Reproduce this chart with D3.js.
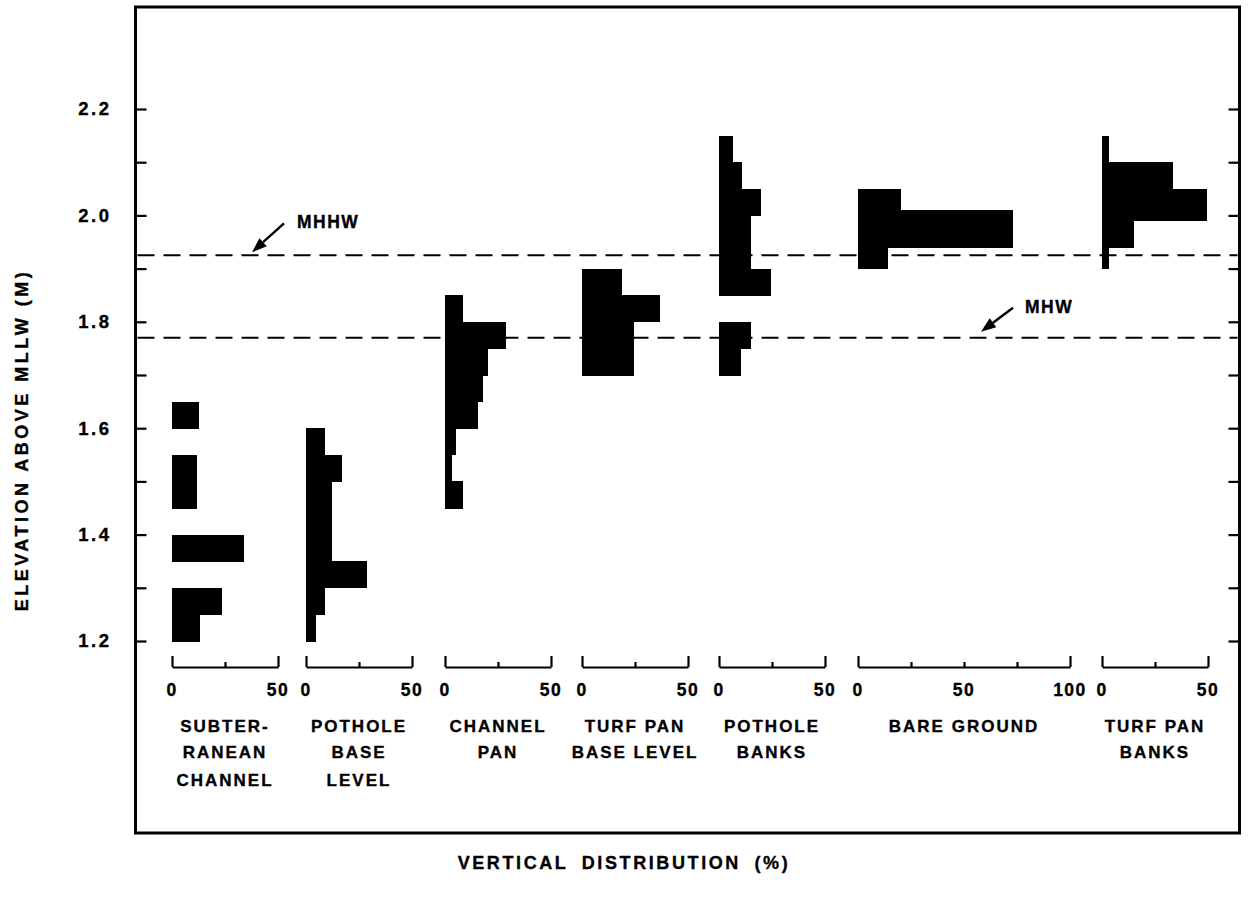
<!DOCTYPE html>
<html>
<head>
<meta charset="utf-8">
<script src="https://cdn.jsdelivr.net/npm/d3@7"></script>
<style>
  body { margin: 0; background: #fff; }
  text { font-family: "Liberation Sans", Arial, Helvetica, sans-serif; font-weight: bold; fill: #000; stroke: #000; stroke-width: 0.35px; }
</style>
</head>
<body>
<svg id="chart" width="1255" height="902"></svg>
<script>
// Elevation bins per habitat: [lower elevation (m), upper elevation (m), percent of occurrences]
const subterraneanChannel = [
  [1.20, 1.25, 13], [1.25, 1.30, 23.5], [1.35, 1.40, 34],
  [1.45, 1.50, 12], [1.50, 1.55, 12], [1.60, 1.65, 12.5]
];
const potholeBaseLevel = [
  [1.20, 1.25, 4.9], [1.25, 1.30, 8.8], [1.30, 1.35, 29], [1.35, 1.40, 12.3],
  [1.40, 1.45, 12.3], [1.45, 1.50, 12.3], [1.50, 1.55, 17], [1.55, 1.60, 8.8]
];
const channelPan = [
  [1.45, 1.50, 8.3], [1.50, 1.55, 3.4], [1.55, 1.60, 5], [1.60, 1.65, 15.6],
  [1.65, 1.70, 17.9], [1.70, 1.75, 20.4], [1.75, 1.80, 28.6], [1.80, 1.85, 8.6]
];
const turfPanBaseLevel = [
  [1.70, 1.80, 24.7], [1.80, 1.85, 36.6], [1.85, 1.90, 18.9]
];
const potholeBanks = [
  [1.70, 1.75, 10.5], [1.75, 1.80, 15], [1.85, 1.90, 24.4], [1.90, 1.95, 15.3],
  [1.95, 2.00, 15.3], [2.00, 2.05, 19.7], [2.05, 2.10, 11], [2.10, 2.15, 6.6]
];
const bareGround = [
  [1.90, 1.94, 14], [1.94, 2.01, 73], [2.01, 2.05, 20.5]
];
const turfPanBanks = [
  [1.90, 1.94, 3.5], [1.94, 1.99, 15], [1.99, 2.05, 49.6], [2.05, 2.10, 33.5], [2.10, 2.15, 3.5]
];

const habitatSeries = [subterraneanChannel, potholeBaseLevel, channelPan, turfPanBaseLevel,
                       potholeBanks, bareGround, turfPanBanks];
const habitatLabels = [
  ["SUBTER-", "RANEAN", "CHANNEL"],
  ["POTHOLE", "BASE", "LEVEL"],
  ["CHANNEL", "PAN"],
  ["TURF PAN", "BASE LEVEL"],
  ["POTHOLE", "BANKS"],
  ["BARE GROUND"],
  ["TURF PAN", "BANKS"]
];
const panelMax = [50, 50, 50, 50, 50, 100, 50];
const panelTickLabels = [[0, 50], [0, 50], [0, 50], [0, 50], [0, 50], [0, 50, 100], [0, 50]];

const elevationTicks = [1.2, 1.3, 1.4, 1.5, 1.6, 1.7, 1.8, 1.9, 2.0, 2.1, 2.2];
const elevationLabels = ["1.2", "1.4", "1.6", "1.8", "2.0", "2.2"];

const datumNames = ["MHHW", "MHW"];
const datumElevations = [1.925, 1.77];

// ---- layout ----
const frame = { left: 135.5, top: 7, right: 1239.5, bottom: 833 };
const panelZero = [172, 306, 445, 582, 719, 858, 1102];
const pxPerPercent = 2.12;
const axisY = 667;

const svg = d3.select("#chart");

const y = d3.scaleLinear().domain([1.2, 2.2]).range([641, 109]);

// frame
svg.append("rect")
  .attr("x", frame.left).attr("y", frame.top)
  .attr("width", frame.right - frame.left).attr("height", frame.bottom - frame.top)
  .attr("fill", "none").attr("stroke", "#000").attr("stroke-width", 3);

// left elevation axis (ticks point inward)
const leftAxis = d3.axisLeft(y)
  .tickValues(elevationTicks)
  .tickSizeInner(-11).tickSizeOuter(0)
  .tickPadding(24)
  .tickFormat(d => elevationLabels.includes(d.toFixed(1)) ? d.toFixed(1) : "");
const gl = svg.append("g").attr("transform", `translate(${frame.left},0)`).call(leftAxis);
gl.select(".domain").remove();
gl.selectAll(".tick line").attr("stroke", "#000").attr("stroke-width", 2.2);
gl.selectAll(".tick text")
  .attr("font-size", 18.5).attr("letter-spacing", 2.5)
  .style("font-family", "'Liberation Sans', Arial, sans-serif").style("font-weight", "bold");

// right side ticks (inward)
const rightAxis = d3.axisRight(y)
  .tickValues(elevationTicks)
  .tickSizeInner(-11).tickSizeOuter(0)
  .tickFormat("");
const gr = svg.append("g").attr("transform", `translate(${frame.right},0)`).call(rightAxis);
gr.select(".domain").remove();
gr.selectAll(".tick line").attr("stroke", "#000").attr("stroke-width", 2.2);

// tidal datum lines
datumElevations.forEach(e => {
  svg.append("line")
    .attr("x1", frame.left + 2).attr("x2", frame.right - 2)
    .attr("y1", y(e)).attr("y2", y(e))
    .attr("stroke", "#000").attr("stroke-width", 2)
    .attr("stroke-dasharray", "17,9");
});

// panels
habitatSeries.forEach((series, i) => {
  const x = d3.scaleLinear()
    .domain([0, panelMax[i]])
    .range([panelZero[i], panelZero[i] + panelMax[i] * pxPerPercent]);

  svg.append("g").attr("shape-rendering", "crispEdges").selectAll("rect")
    .data(series)
    .join("rect")
    .attr("x", x(0))
    .attr("y", d => y(d[1]))
    .attr("width", d => x(d[2]) - x(0))
    .attr("height", d => y(d[0]) - y(d[1]) + 0.5)
    .attr("fill", "#000");

  // bracket-style percent axis
  const ticks = d3.range(0, panelMax[i] + 1, 25);
  const ax = d3.axisTop(x).tickValues(ticks).tickSizeInner(5).tickSizeOuter(0).tickFormat("");
  const g = svg.append("g").attr("transform", `translate(0,${axisY})`).call(ax);
  g.select(".domain").attr("stroke", "#000").attr("stroke-width", 2.2);
  g.selectAll(".tick line")
    .attr("stroke", "#000").attr("stroke-width", 2.2)
    .attr("y2", d => (d === 0 || d === panelMax[i]) ? -11 : -5);

  svg.append("g").selectAll("text")
    .data(panelTickLabels[i])
    .join("text")
    .attr("x", d => x(d))
    .attr("y", axisY + 29)
    .attr("text-anchor", "middle")
    .attr("font-size", 17.5)
    .attr("letter-spacing", 1.5)
    .text(d => d);

  const cx = x(panelMax[i] / 2);
  const lineY = [732, 758, 786];
  habitatLabels[i].forEach((line, k) => {
    svg.append("text")
      .attr("x", cx).attr("y", lineY[k])
      .attr("text-anchor", "middle")
      .attr("font-size", 17)
      .attr("letter-spacing", 2)
      .text(line);
  });
});

// datum annotations with arrows
const annot = [
  { tipX: 252, tipDy: -3, tailDx: 32, tailDy: -29, textX: 297, textDy: -27 },
  { tipX: 981, tipDy: -6, tailDx: 32, tailDy: -24, textX: 1025, textDy: -25 }
];
annot.forEach((a, i) => {
  const ly = y(datumElevations[i]);
  const tip = [a.tipX, ly + a.tipDy];
  const tail = [a.tipX + a.tailDx, ly + a.tipDy + a.tailDy];
  const ang = Math.atan2(tail[1] - tip[1], tail[0] - tip[0]);
  const len = 15, half = 5.5;
  const bx = tip[0] + len * Math.cos(ang), by = tip[1] + len * Math.sin(ang);
  const px = -Math.sin(ang) * half, py = Math.cos(ang) * half;
  svg.append("line")
    .attr("x1", tail[0]).attr("y1", tail[1]).attr("x2", bx).attr("y2", by)
    .attr("stroke", "#000").attr("stroke-width", 2.4);
  svg.append("path")
    .attr("d", `M${tip[0]},${tip[1]} L${bx + px},${by + py} L${bx - px},${by - py} Z`)
    .attr("fill", "#000");
  svg.append("text")
    .attr("x", a.textX).attr("y", ly + a.textDy)
    .attr("font-size", 17.5).attr("letter-spacing", 1.5)
    .text(datumNames[i]);
});

// axis titles
svg.append("text")
  .attr("transform", "translate(28,440) rotate(-90)")
  .attr("text-anchor", "middle")
  .attr("font-size", 18).attr("letter-spacing", 3.5)
  .text("ELEVATION ABOVE MLLW (M)");

svg.append("text")
  .attr("x", 624).attr("y", 869)
  .attr("text-anchor", "middle")
  .attr("font-size", 18).attr("letter-spacing", 2.6)
  .style("word-spacing", "6px")
  .text("VERTICAL DISTRIBUTION (%)");
</script>
</body>
</html>
